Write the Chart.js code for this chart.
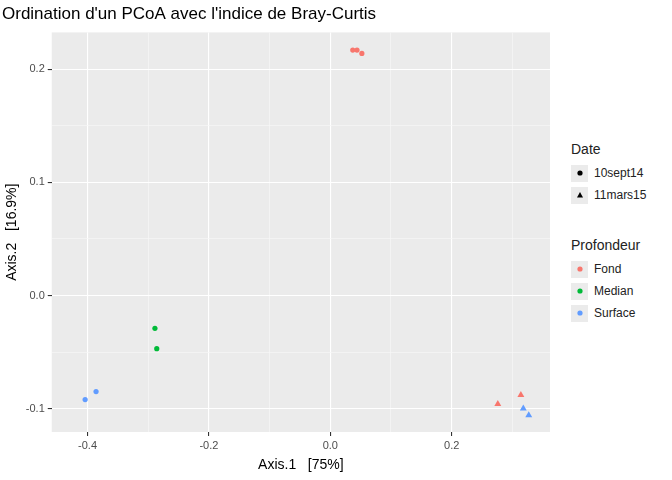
<!DOCTYPE html>
<html>
<head>
<meta charset="utf-8">
<script src="https://cdn.jsdelivr.net/npm/chart.js@4"></script>
<style>
body { margin: 0; background: #fff; font-family: "Liberation Sans", Arial, sans-serif; }
#wrap { position: relative; width: 672px; height: 480px; }
#c { position: absolute; left: 0; top: 0; }
.legend { position: absolute; left: 571px; font-size: 12px; color: #222; }
.legend h4 { margin: 0 0 5px 0; font-size: 14px; font-weight: normal; }
.row { display: flex; align-items: center; height: 22px; }
.key { width: 17px; height: 17px; background: #EBEBEB; display: flex; align-items: center; justify-content: center; margin-right: 6px; }
</style>
</head>
<body>
<div id="wrap">
<canvas id="c" width="560" height="480"></canvas>
<div class="legend" style="top:141px">
  <h4>Date</h4>
  <div class="row"><div class="key"><svg width="8" height="8"><circle cx="4" cy="4" r="2.6" fill="#000"/></svg></div>10sept14</div>
  <div class="row"><div class="key"><svg width="8" height="8"><polygon points="4,1 7,6.5 1,6.5" fill="#000"/></svg></div>11mars15</div>
</div>
<div class="legend" style="top:237px">
  <h4>Profondeur</h4>
  <div class="row"><div class="key"><svg width="8" height="8"><circle cx="4" cy="4" r="2.6" fill="#F8766D"/></svg></div>Fond</div>
  <div class="row"><div class="key"><svg width="8" height="8"><circle cx="4" cy="4" r="2.6" fill="#00BA38"/></svg></div>Median</div>
  <div class="row"><div class="key"><svg width="8" height="8"><circle cx="4" cy="4" r="2.6" fill="#619CFF"/></svg></div>Surface</div>
</div>
</div>
<script>
const fondSept = [{x: 0.037, y: 0.217}, {x: 0.044, y: 0.217}, {x: 0.052, y: 0.214}];
const fondMars = [{x: 0.276, y: -0.096}, {x: 0.314, y: -0.088}];
const medianSept = [{x: -0.289, y: -0.029}, {x: -0.286, y: -0.047}];
const surfaceSept = [{x: -0.404, y: -0.092}, {x: -0.386, y: -0.085}];
const surfaceMars = [{x: 0.318, y: -0.100}, {x: 0.327, y: -0.106}];

const bgPlugin = {
    id: 'panelBg',
    beforeDraw(chart) {
        const a = chart.chartArea, ctx = chart.ctx;
        ctx.save();
        ctx.fillStyle = '#EBEBEB';
        ctx.fillRect(a.left, a.top, a.right - a.left, a.bottom - a.top);
        ctx.restore();
    }
};

const isMajor = (v, major) => Math.abs(Math.round(v / major) * major - v) < 1e-6;

function makeAxis(min, max, minor, major, title) {
    return {
        type: 'linear', min: min, max: max,
        afterBuildTicks: axis => {
            const t = [];
            for (let k = Math.ceil(min / minor); k * minor <= max; k++) t.push({ value: +(k * minor).toFixed(4) });
            axis.ticks = t;
        },
        ticks: {
            autoSkip: false, color: '#4D4D4D', font: { size: 11 },
            callback: v => isMajor(v, major) ? (v === 0 ? '0.0' : v.toFixed(1)) : ''
        },
        grid: {
            color: c => isMajor(c.tick.value, major) ? '#FFFFFF' : '#F7F7F7',
            lineWidth: c => isMajor(c.tick.value, major) ? 1.1 : 0.7,
            tickColor: c => isMajor(c.tick.value, major) ? '#333' : 'rgba(0,0,0,0)',
            tickLength: 4
        },
        border: { display: false },
        title: { display: true, text: title, color: '#000', font: { size: 14 }, padding: 2 }
    };
}

const ds = (data, color, shape) => ({
    data: data, backgroundColor: color, borderColor: color,
    pointStyle: shape, pointRadius: shape === 'triangle' ? 4 : 2.6, pointBorderWidth: 0
});

new Chart(document.getElementById('c'), {
    type: 'scatter',
    data: {
        datasets: [
            ds(fondSept, '#F8766D', 'circle'),
            ds(fondMars, '#F8766D', 'triangle'),
            ds(medianSept, '#00BA38', 'circle'),
            ds(surfaceSept, '#619CFF', 'circle'),
            ds(surfaceMars, '#619CFF', 'triangle')
        ]
    },
    options: {
        responsive: false, animation: false,
        layout: { padding: { left: 2, right: 10, top: 0, bottom: 4 } },
        plugins: {
            legend: { display: false }, tooltip: { enabled: false },
            title: { display: true, text: "Ordination d'un PCoA avec l'indice de Bray-Curtis", align: 'start',
                color: '#000', font: { size: 17, weight: 'normal' }, padding: { top: 4, bottom: 8 } }
        },
        scales: {
            x: makeAxis(-0.459, 0.362, 0.1, 0.2, 'Axis.1   [75%]'),
            y: makeAxis(-0.1207, 0.2326, 0.05, 0.1, 'Axis.2   [16.9%]')
        }
    },
    plugins: [bgPlugin]
});
</script>
</body>
</html>
